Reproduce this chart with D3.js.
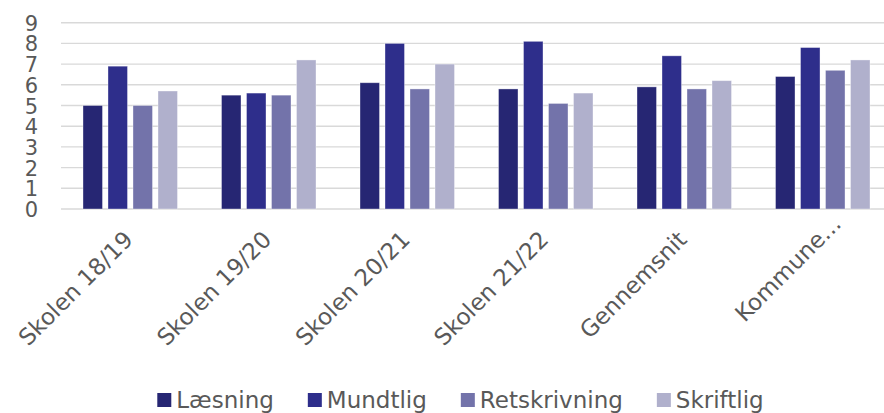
<!DOCTYPE html>
<html>
<head>
<meta charset="utf-8">
<script src="https://cdn.jsdelivr.net/npm/d3@7/dist/d3.min.js"></script>
<style>
  html, body { margin: 0; padding: 0; background: #ffffff; }
  svg { display: block; }
  text { font-family: "DejaVu Sans", Verdana, sans-serif; fill: #595959; }
</style>
</head>
<body>
<svg id="chart" width="884" height="413"></svg>
<script>
const categories = ["Skolen 18/19", "Skolen 19/20", "Skolen 20/21", "Skolen 21/22", "Gennemsnit", "Kommune..."];
const seriesNames = ["Læsning", "Mundtlig", "Retskrivning", "Skriftlig"];
const laesning     = [5.0, 5.5, 6.1, 5.8, 5.9, 6.4];
const mundtlig     = [6.9, 5.6, 8.0, 8.1, 7.4, 7.8];
const retskrivning = [5.0, 5.5, 5.8, 5.1, 5.8, 6.7];
const skriftlig    = [5.7, 7.2, 7.0, 5.6, 6.2, 7.2];
const yTicks = [0, 1, 2, 3, 4, 5, 6, 7, 8, 9];
const colors = ["#262673", "#2e2e8b", "#7373aa", "#b0b0cc"];

const seriesValues = [laesning, mundtlig, retskrivning, skriftlig];
const rows = categories.map((c, i) => ({
  cat: c,
  vals: seriesNames.map((s, j) => ({ series: s, value: seriesValues[j][i], color: colors[j] }))
}));

const svg = d3.select("#chart");
const plotLeft = 61, plotRight = 892, plotTop = 22.7, plotBottom = 209;

const y = d3.scaleLinear().domain([0, 9]).range([plotBottom, plotTop]);
const x0 = d3.scaleBand().domain(categories).range([plotLeft, plotRight])
  .paddingInner(0.3177).paddingOuter(0.1588);
const x1 = d3.scaleBand().domain(seriesNames).range([0, x0.bandwidth()])
  .paddingInner(0.22).paddingOuter(0);

// gridlines
svg.append("g").selectAll("line").data(yTicks).join("line")
  .attr("x1", plotLeft).attr("x2", 884)
  .attr("y1", d => y(d)).attr("y2", d => y(d))
  .attr("stroke", "#d9d9d9").attr("stroke-width", 1.4);

// y axis labels
const yAxis = d3.axisLeft(y).tickValues(yTicks).tickSize(0).tickPadding(0);
const yg = svg.append("g").attr("transform", "translate(38,0)").call(yAxis);
yg.select(".domain").remove();
yg.selectAll("text").attr("font-size", 21).attr("fill", "#595959")
  .attr("font-family", "DejaVu Sans, Verdana, sans-serif").attr("dy", "0.36em");

// bars
const groups = svg.append("g").selectAll("g").data(rows).join("g")
  .attr("transform", d => `translate(${x0(d.cat)},0)`);
groups.selectAll("rect").data(d => d.vals).join("rect")
  .attr("x", d => x1(d.series))
  .attr("width", x1.bandwidth())
  .attr("y", d => y(d.value))
  .attr("height", d => y(0) - y(d.value))
  .attr("fill", d => d.color)
  .attr("stroke", "#ffffff").attr("stroke-opacity", 0.45).attr("stroke-width", 0.8);

// x axis labels (rotated)
const xl = svg.append("g");
xl.selectAll("text").data(categories).join("text")
  .attr("transform", d => `translate(${x0(d) + x0.bandwidth() / 2 + 4},241) rotate(-45)`)
  .attr("text-anchor", "end")
  .attr("dx", d => d.endsWith("...") ? 22 : 0)
  .attr("font-size", 23)
  .text(d => d);

// legend
const lg = svg.append("g");
const items = lg.selectAll("g").data(seriesNames).join("g");
items.append("rect").attr("width", 14).attr("height", 14).attr("y", 393)
  .attr("fill", (d, i) => colors[i]);
items.append("text").attr("x", 19).attr("y", 408).attr("font-size", 23).text(d => d);
let widths = [];
items.each(function () { widths.push(this.getBBox().width); });
const gap = 34;
const total = d3.sum(widths) + gap * (widths.length - 1);
let cx = 460.5 - total / 2;
items.attr("transform", (d, i) => {
  const t = `translate(${cx},0)`;
  cx += widths[i] + gap;
  return t;
});
</script>
</body>
</html>
